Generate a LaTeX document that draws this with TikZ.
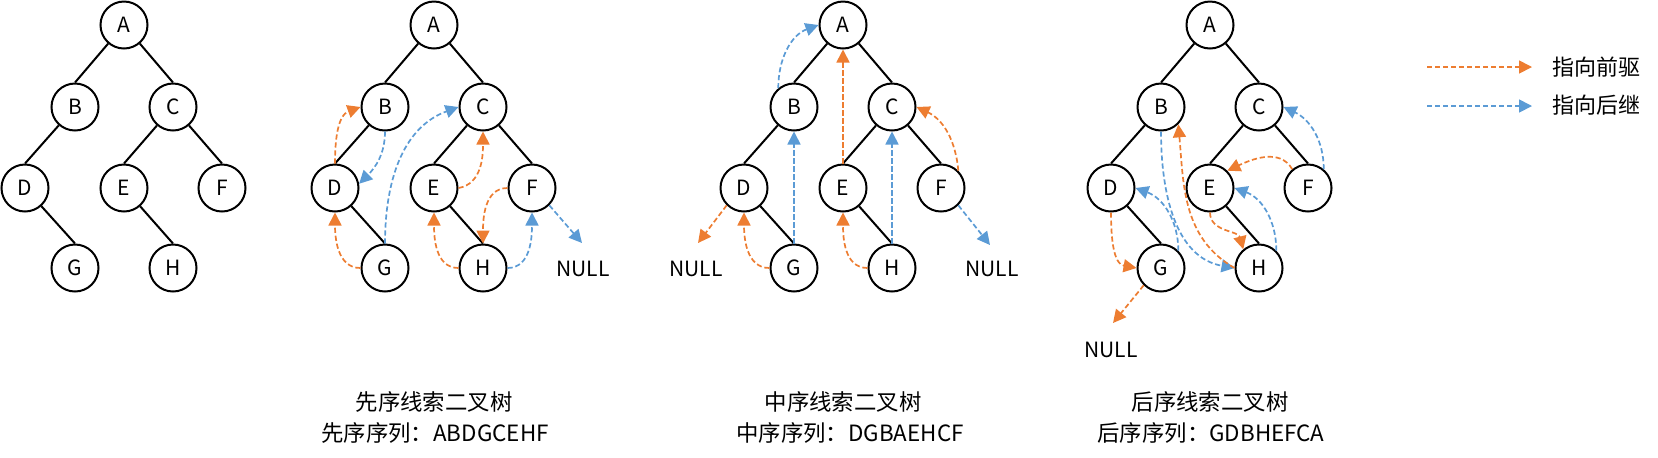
\documentclass[tikz,border=0pt]{standalone}
\usepackage{fontspec}
\setmainfont{Noto Sans CJK SC}
\usetikzlibrary{arrows.meta}
\definecolor{porange}{RGB}{237,125,49}
\definecolor{sblue}{RGB}{91,155,213}
\newcommand\nfs{\fontsize{10.5}{12}\selectfont}
\newcommand\lfs{\fontsize{11}{13}\selectfont}
\newcommand\cfs{\fontsize{11.2}{13}\selectfont}
\tikzset{
  tn/.style={circle, draw, line width=1pt, minimum size=23.5pt, inner sep=0pt, font=\nfs},
  tedge/.style={line width=1pt},
  thr/.style={line width=0.85pt, dash pattern=on 2.6pt off 1.4pt, -{Triangle[length=6.5pt,width=6.5pt]}},
  pre/.style={thr, draw=porange, color=porange},
  suc/.style={thr, draw=sblue, color=sblue},
  txt/.style={inner sep=0pt, font=\nfs},
  captxt/.style={inner sep=0pt, font=\cfs},
}
\newcommand\mytree[2]{%
  \node[tn] (#1A) at (#2,-25) {A};
  \node[tn] (#1B) at ({#2-49},-107) {B};
  \node[tn] (#1C) at ({#2+49},-107) {C};
  \node[tn] (#1D) at ({#2-99},-188) {D};
  \node[tn] (#1E) at ({#2},-188) {E};
  \node[tn] (#1F) at ({#2+98},-188) {F};
  \node[tn] (#1G) at ({#2-49},-268) {G};
  \node[tn] (#1H) at ({#2+49},-268) {H};
  \draw[tedge] (#1A) -- (#1B.north);
  \draw[tedge] (#1A) -- (#1C.north);
  \draw[tedge] (#1B) -- (#1D.north);
  \draw[tedge] (#1C) -- (#1E.north);
  \draw[tedge] (#1C) -- (#1F.north);
  \draw[tedge] (#1D) -- (#1G.north);
  \draw[tedge] (#1E) -- (#1H.north);
}
\begin{document}
\begin{tikzpicture}[x=0.5pt, y=0.5pt]
\useasboundingbox (0,0) rectangle (1658,-457);
% tree 1
\mytree{o}{124}
% tree 2 preorder
\mytree{p}{434}
\draw[pre] (pD.north) to[out=90, in=200] (pB.west);
\draw[suc] (pB.south) to[out=-90, in=45] (pD.10);
\draw[pre] (pG.west) to[out=180, in=-90] (pD.south);
\draw[suc] (pG.north) to[out=90, in=200] (pC.west);
\draw[pre] (pE.east) to[out=10, in=-90] (pC.south);
\draw[pre] (pH.west) to[out=180, in=-90] (pE.south);
\draw[suc] (pH.east) to[out=0, in=-90] (pF.south);
\draw[pre] (pF.west) to[out=180, in=90] (pH.north);
\coordinate (pN) at (582,-243);
\draw[suc] (pF.-45) -- (pN);
\node[txt] (pNULL) at (583,-269) {NULL};
\node[captxt] (pcap1) at (434,-402) {先序线索二叉树};
\node[captxt] (pcap2) at (435,-433) {先序序列：ABDGCEHF};
% tree 3 inorder
\mytree{i}{843}
\draw[suc] (iB.130) to[out=90, in=200] (iA.west);
\coordinate (iN1) at (698,-243);
\draw[pre] (iD.-135) -- (iN1);
\draw[pre] (iG.west) to[out=180, in=-90] (iD.south);
\draw[suc] (iG.north) -- (iB.south);
\draw[pre] (iE.north) -- (iA.south);
\draw[pre] (iH.west) to[out=180, in=-90] (iE.south);
\draw[suc] (iH.north) -- (iC.south);
\draw[pre] (iF.45) to[out=95, in=-25] (iC.east);
\coordinate (iN2) at (990,-245);
\draw[suc] (iF.-45) -- (iN2);
\node[txt] (iNULL1) at (696,-269) {NULL};
\node[txt] (iNULL2) at (992,-269) {NULL};
\node[captxt] (icap1) at (843,-402) {中序线索二叉树};
\node[captxt] (icap2) at (850,-433) {中序序列：DGBAEHCF};
% tree 4 postorder
\mytree{q}{1210}
\draw[pre] (qD.south) to[out=-90, in=170] (qG.west);
\coordinate (qN) at (1113,-323);
\draw[pre] (qG.-135) -- (qN);
\draw[suc] (qG.45) to[out=90, in=-20] (qD.east);
\draw[suc] (qB.south) to[out=-90, in=170] (qH.west);
\draw[pre] (qH.west) to[out=150, in=-85] (qB.-45);
\draw[suc] (qH.45) to[out=90, in=-20] (qE.east);
\draw[pre] (qE.south) to[out=-90, in=105] (qH.130);
\draw[pre] (qF.130) to[out=120, in=25] (qE.45);
\draw[suc] (qF.50) to[out=90, in=-25] (qC.east);
\node[txt] (qNULL) at (1111,-350) {NULL};
\node[captxt] (qcap1) at (1210,-402) {后序线索二叉树};
\node[captxt] (qcap2) at (1211,-433) {后序序列：GDBHEFCA};
% legend
\coordinate (l1s) at (1427,-67);
\coordinate (l1e) at (1532,-67);
\coordinate (l2s) at (1427,-106);
\coordinate (l2e) at (1532,-106);
\draw[pre] (l1s) -- (l1e);
\draw[suc] (l2s) -- (l2e);
\node[txt, font=\lfs, anchor=west] (lt1) at (1552,-67) {指向前驱};
\node[txt, font=\lfs, anchor=west] (lt2) at (1552,-105) {指向后继};
\end{tikzpicture}
\end{document}
